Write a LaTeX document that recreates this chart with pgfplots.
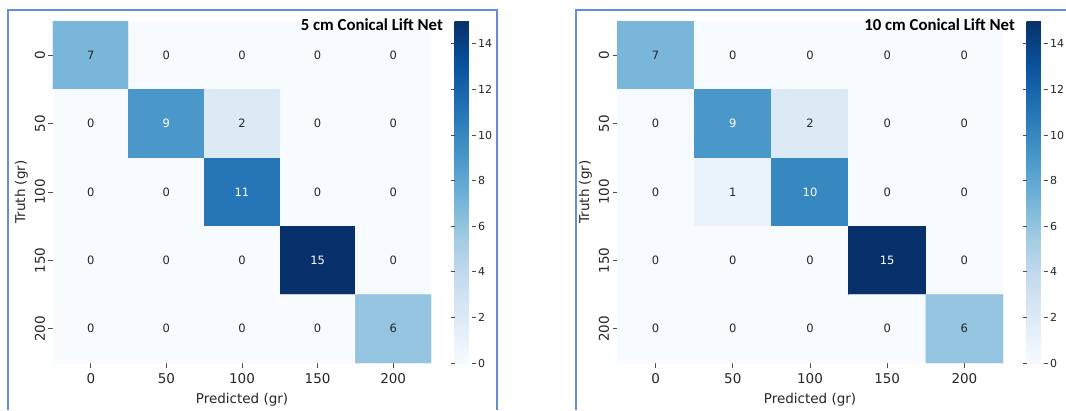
\documentclass[border=0pt]{standalone}
\usepackage{pgfplots}
\usepackage{pgfplotstable}
\pgfplotsset{compat=1.18}
\usepackage{fontspec}
\setmainfont{DejaVu Sans}
\newfontfamily\titlefont{Carlito}

% Confusion matrices: x = predicted class index, y = true class index, c = count
\pgfplotstableread{
x y c
0 0 7
1 0 0
2 0 0
3 0 0
4 0 0
0 1 0
1 1 9
2 1 2
3 1 0
4 1 0
0 2 0
1 2 0
2 2 11
3 2 0
4 2 0
0 3 0
1 3 0
2 3 0
3 3 15
4 3 0
0 4 0
1 4 0
2 4 0
3 4 0
4 4 6
}\cmfive

\pgfplotstableread{
x y c
0 0 7
1 0 0
2 0 0
3 0 0
4 0 0
0 1 0
1 1 9
2 1 2
3 1 0
4 1 0
0 2 0
1 2 1
2 2 10
3 2 0
4 2 0
0 3 0
1 3 0
2 3 0
3 3 15
4 3 0
0 4 0
1 4 0
2 4 0
3 4 0
4 4 6
}\cmten

\definecolor{frameblue}{RGB}{100,140,215}
\definecolor{annodark}{RGB}{38,38,38}

\pgfplotsset{
  /pgf/number format/assume math mode=true,
  colormap={blues}{rgb255=(247,251,255) rgb255=(222,235,247) rgb255=(198,219,239)
    rgb255=(158,202,225) rgb255=(107,174,214) rgb255=(66,146,198)
    rgb255=(33,113,181) rgb255=(8,81,156) rgb255=(8,48,107)},
  cm/.style={
    scale only axis, anchor=south west,
    height=342pt,
    xmin=-0.5, xmax=4.5, ymin=-0.5, ymax=4.5,
    y dir=reverse, enlargelimits=false,
    xtick={0,...,4}, ytick={0,...,4},
    xticklabels={0,50,100,150,200},
    yticklabels={0,50,100,150,200},
    xtick pos=left, ytick pos=left,
    axis line style={draw=none},
    tick align=outside, major tick length=4.5pt,
    tick style={draw=black!70, line width=0.8pt},
    ticklabel style={font=\fontsize{13.5}{15}\selectfont, text=black!85},
    xticklabel style={yshift=-2pt},
    yticklabel style={rotate=90, anchor=south},
    xlabel={Predicted (gr)}, ylabel={Truth (gr)},
    label style={font=\fontsize{13.5}{15}\selectfont, text=black!85},
    xlabel style={yshift=-3pt},
    colormap name=blues,
    point meta min=0, point meta max=15,
    colorbar,
    colorbar style={
      at={(parent axis.north east)}, anchor=north west, xshift=15pt,
      scale only axis, width=17pt,
      ytick={0,2,...,14},
      axis line style={draw=none},
      tick align=outside, major tick length=4pt,
      tick style={draw=black!70, line width=0.8pt},
      yticklabel style={font=\fontsize{11}{12}\selectfont, text=black!85, xshift=-1pt},
    },
  },
  anno/.style={
    draw=none, mark=none,
    point meta=explicit,
    visualization depends on={\thisrow{c} \as \cval},
    nodes near coords={\ifdim\cval pt>8.5pt\color{white}\else\color{annodark}\fi\pgfmathprintnumber{\cval}},
    nodes near coords align=center,
    every node near coord/.append style={font=\fontsize{11.5}{12}\selectfont, anchor=center},
  },
}

\begin{document}
\begin{tikzpicture}[x=1pt,y=1pt]
\useasboundingbox (0,0) rectangle (1066,410);
\fill[white] (0,0) rectangle (1066,410);

% panel frames
\draw[frameblue, line width=1.5pt] (8,0) -- (8,400) -- (497,400) -- (497,0);
\draw[frameblue, line width=1.5pt] (576,0) -- (576,400) -- (1066,400);

\begin{axis}[cm, at={(53pt,47pt)}, width=378pt]
  \addplot[matrix plot*, mesh/cols=5, point meta=explicit] table[meta=c] {\cmfive};
  \addplot[anno] table[meta=c] {\cmfive};
\end{axis}
\node[anchor=east, inner sep=0pt, font=\titlefont\bfseries\fontsize{16.8}{18}\selectfont] at (443,385) {5 cm Conical Lift Net};

\begin{axis}[cm, at={(617pt,47pt)}, width=386pt]
  \addplot[matrix plot*, mesh/cols=5, point meta=explicit] table[meta=c] {\cmten};
  \addplot[anno] table[meta=c] {\cmten};
\end{axis}
\node[anchor=east, inner sep=0pt, font=\titlefont\bfseries\fontsize{16.8}{18}\selectfont] at (1015,385) {10 cm Conical Lift Net};
\end{tikzpicture}
\end{document}
